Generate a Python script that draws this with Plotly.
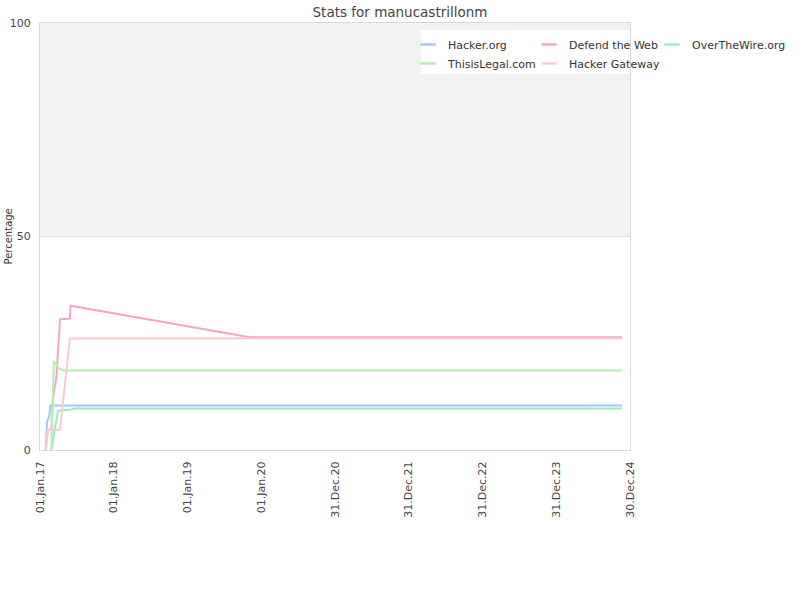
import plotly.graph_objects as go

# ---- data ----
hacker_org_dates = ["2017-01-29", "2017-02-05", "2017-02-15", "2017-02-22", "2024-11-20"]
hacker_org_vals = [0, 6.6, 7.8, 10.4, 10.4]

defend_dates = ["2017-01-29", "2017-02-08", "2017-02-26", "2017-03-06", "2017-03-23",
                "2017-04-04", "2017-04-10", "2017-05-29", "2017-06-01", "2019-11-06", "2024-11-20"]
defend_vals = [0, 4.5, 5, 12, 17, 28, 30.6, 30.8, 33.8, 26.4, 26.4]

otw_dates = ["2017-02-26", "2017-03-16", "2017-03-31", "2017-05-29", "2017-06-20", "2024-11-20"]
otw_vals = [0, 5, 9.2, 9.4, 9.7, 9.7]

legal_dates = ["2017-02-26", "2017-03-06", "2017-03-11", "2017-03-31", "2017-04-25", "2024-11-20"]
legal_vals = [0, 17.5, 20.8, 19.3, 18.6, 18.6]

gateway_dates = ["2017-01-31", "2017-02-08", "2017-04-10", "2017-05-29", "2024-11-20"]
gateway_vals = [0, 4.7, 4.7, 26.1, 26.1]

tick_dates = ["2017-01-01", "2018-01-01", "2019-01-01", "2020-01-01", "2020-12-31",
              "2021-12-31", "2022-12-31", "2023-12-31", "2024-12-30"]
tick_labels = ["01.Jan.17", "01.Jan.18", "01.Jan.19", "01.Jan.20", "31.Dec.20",
               "31.Dec.21", "31.Dec.22", "31.Dec.23", "30.Dec.24"]

series = [
    ("Hacker.org", hacker_org_dates, hacker_org_vals, "#9ec9f5"),
    ("Defend the Web", defend_dates, defend_vals, "#f3a6c9"),
    ("OverTheWire.org", otw_dates, otw_vals, "#9ae8c8"),
    ("ThisisLegal.com", legal_dates, legal_vals, "#b3f0ad"),
    ("Hacker Gateway", gateway_dates, gateway_vals, "#f7cccc"),
]
legend_cols = ["legend", "legend2", "legend3", "legend", "legend2"]

fig = go.Figure()
for name, d, v, c in series:
    fig.add_trace(go.Scatter(x=d, y=v, name=name, mode="lines", showlegend=False,
                             line=dict(color=c, width=2)))
# legend entries with short line symbols
for (name, d, v, c), lg in zip(series, legend_cols):
    fig.add_trace(go.Scatter(x=[None], y=[None], name=name, mode="markers", legend=lg,
                             marker=dict(symbol="line-ew-open", size=11, color=c,
                                         line=dict(color=c, width=2.5))))

# shaded upper band, with the legend box cut out in white
fig.add_shape(type="rect", xref="paper", yref="y", x0=0, x1=1, y0=50, y1=100,
              fillcolor="#f2f2f2", line_width=0, layer="below")
fig.add_shape(type="rect", xref="paper", yref="paper",
              x0=(421 - 40) / 590, x1=1, y0=(450 - 74) / 427, y1=(450 - 30) / 427,
              fillcolor="white", line_width=0, layer="below")

font = "DejaVu Sans, Verdana, sans-serif"
fig.add_annotation(text="Percentage", xref="paper", yref="paper",
                   x=(8 - 40) / 590, y=0.5, textangle=-90, showarrow=False,
                   xanchor="center", yanchor="middle",
                   font=dict(size=10, color="#333"))

leg_common = dict(orientation="v", xref="container", yref="container",
                  xanchor="left", yanchor="top", y=1 - 30 / 600,
                  bgcolor="rgba(0,0,0,0)", itemwidth=30,
                  font=dict(size=11, color="#333"), traceorder="normal")

fig.update_layout(
    width=800, height=600,
    margin=dict(l=40, r=170, t=23, b=150, autoexpand=False),
    paper_bgcolor="white", plot_bgcolor="white",
    font=dict(family=font, size=11, color="#444"),
    title=dict(text="Stats for manucastrillonm", x=0.5, xanchor="center", xref="container",
               y=0.988, yanchor="top", font=dict(size=13.5, color="#444")),
    showlegend=True,
    legend=dict(x=408 / 800, **leg_common),
    legend2=dict(x=529 / 800, **leg_common),
    legend3=dict(x=652 / 800, **leg_common),
    xaxis=dict(type="date", range=["2017-01-01", "2024-12-30"], automargin=False,
               tickvals=tick_dates, ticktext=tick_labels, tickangle=-90,
               ticklabelstandoff=6,
               showgrid=False, showline=True, linecolor="#d8d8d8", mirror=True,
               zeroline=False, ticks="", tickfont=dict(size=11, color="#444")),
    yaxis=dict(range=[0, 100], tickvals=[0, 50, 100], showgrid=True, automargin=False,
               ticklabelstandoff=6,
               gridcolor="#e0e0e0", showline=True, linecolor="#d8d8d8", mirror=True,
               zeroline=False, ticks="", tickfont=dict(size=11, color="#444")),
)

fig.write_html("out.html", config={"displayModeBar": False},
               post_script="document.body.style.margin='0';")
